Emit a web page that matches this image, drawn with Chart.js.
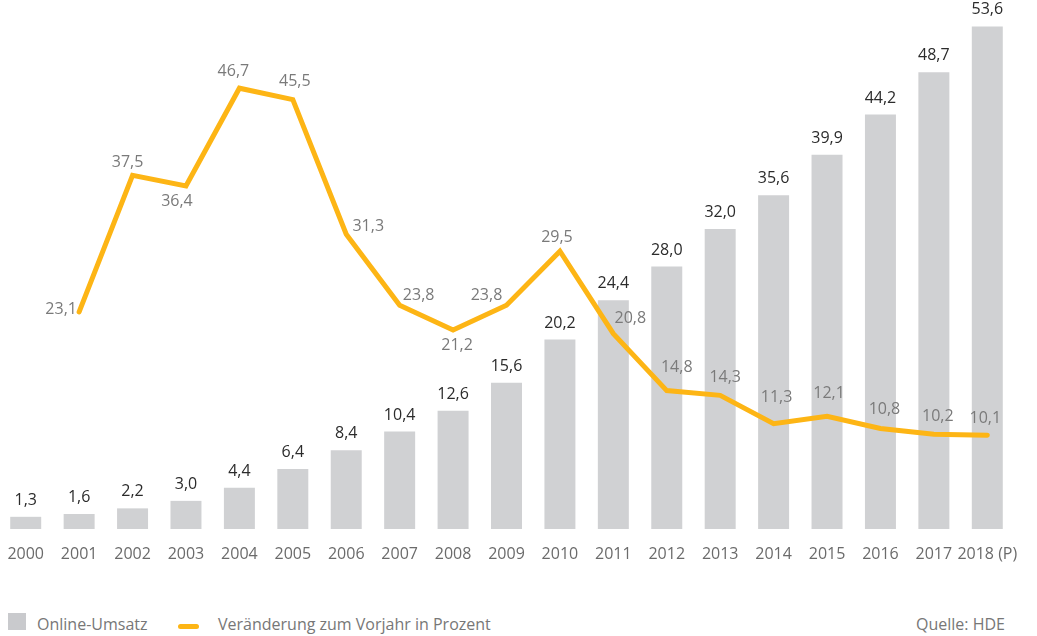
<!DOCTYPE html>
<html><head><meta charset="utf-8">
<script src="https://cdn.jsdelivr.net/npm/chart.js@4.4.1/dist/chart.umd.min.js"></script>
<style>
html,body{margin:0;padding:0;background:#fff;width:1037px;height:636px;overflow:hidden;font-family:"Open Sans",sans-serif;}
#c{position:absolute;left:-2px;top:0;}
.lg{position:absolute;font-size:16px;color:#777;line-height:20px;top:614px;white-space:nowrap;}
.box{position:absolute;left:8px;top:613px;width:18px;height:17px;background:#c9cacd;}
.ln{position:absolute;left:178px;top:624px;width:21px;height:5px;border-radius:3px;background:#fdb515;}
</style></head>
<body>
<canvas id="c" width="1020" height="575" style="width:1020px;height:575px"></canvas>
<div class="box"></div><div class="lg" style="left:37px">Online-Umsatz</div>
<div class="ln"></div><div class="lg" style="left:218px">Veränderung zum Vorjahr in Prozent</div>
<div class="lg" style="left:916px">Quelle: HDE</div>
<script>
const years = ["2000","2001","2002","2003","2004","2005","2006","2007","2008","2009","2010","2011","2012","2013","2014","2015","2016","2017","2018 (P)"];
const onlineUmsatz = [1.3,1.6,2.2,3.0,4.4,6.4,8.4,10.4,12.6,15.6,20.2,24.4,28.0,32.0,35.6,39.9,44.2,48.7,53.6];
const veraenderung = [null,23.1,37.5,36.4,46.7,45.5,31.3,23.8,21.2,23.8,29.5,20.8,14.8,14.3,11.3,12.1,10.8,10.2,10.1];
// label offsets (dx, dy) for line value labels
const lineLabelDx = [0,-18,-5,-9,-6,2,22,19,4,-20,-3,17,10,5,3,2,4,4,-2];
const lineLabelDy = [0,-2,-13,16,-17,-18,-8,-10,16,-10,-14,-15,-23,-18,-26,-23,-19,-18,-17];

const fmt = v => v.toFixed(1).replace('.', ',');

const labelPlugin = {
  id: 'valueLabels',
  afterDatasetsDraw(chart) {
    const ctx = chart.ctx;
    ctx.save();
    ctx.font = '16px "Open Sans"';
    ctx.textAlign = 'center';
    ctx.textBaseline = 'middle';
    const barMeta = chart.getDatasetMeta(0);
    ctx.fillStyle = '#2b2b2b';
    barMeta.data.forEach((el, i) => {
      ctx.fillText(fmt(onlineUmsatz[i]), el.x, el.y - 16.5);
    });
    const lineMeta = chart.getDatasetMeta(1);
    ctx.fillStyle = '#7a7a7a';
    lineMeta.data.forEach((el, i) => {
      if (veraenderung[i] == null) return;
      ctx.fillText(fmt(veraenderung[i]), el.x + lineLabelDx[i], el.y + lineLabelDy[i]);
    });
    ctx.restore();
  }
};

new Chart(document.getElementById('c'), {
  data: {
    labels: years,
    datasets: [
      { type: 'bar', label: 'Online-Umsatz', data: onlineUmsatz, backgroundColor: '#d0d1d3',
        categoryPercentage: 1.0, barPercentage: 0.58, yAxisID: 'y', order: 2 },
      { type: 'line', label: 'Veränderung zum Vorjahr in Prozent', data: veraenderung, borderColor: '#fdb515',
        borderWidth: 5, pointRadius: 0, tension: 0, borderCapStyle: 'round', borderJoinStyle: 'miter',
        spanGaps: false, yAxisID: 'y1', order: 1 }
    ]
  },
  options: {
    responsive: false, maintainAspectRatio: false, animation: false,
    layout: { padding: { left: 1, right: 4, top: 10, bottom: 11 } },
    plugins: { legend: { display: false }, tooltip: { enabled: false } },
    scales: {
      x: { grid: { display: false, drawTicks: false }, border: { display: false },
           ticks: { color: '#6b6b6b', font: { family: 'Open Sans', size: 16 }, padding: 16, maxRotation: 0, autoSkip: false },
           afterFit(scale) { scale.paddingLeft = 0; scale.paddingRight = 0; scale.height = 35; } },
      y: { display: false, min: 0, max: 55.35 },
      y1: { display: false, min: 0.2, max: 54.95 }
    }
  },
  plugins: [labelPlugin]
});
</script>
</body></html>
